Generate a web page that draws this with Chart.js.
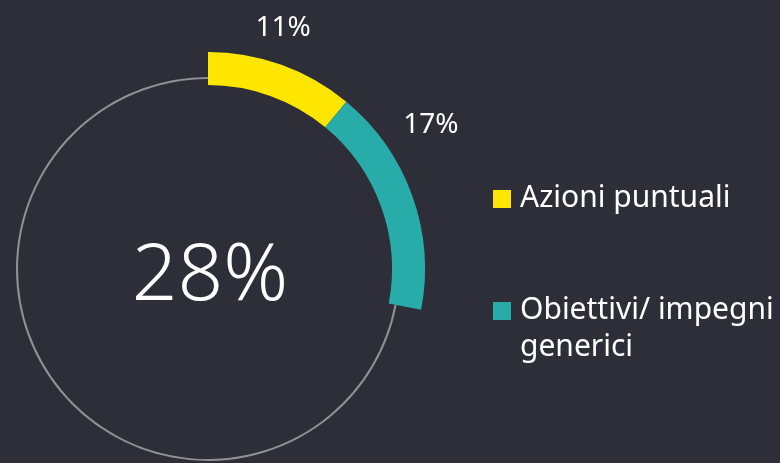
<!DOCTYPE html>
<html>
<head>
    <title>Chart</title>
    <script src="https://cdn.jsdelivr.net/npm/chart.js"></script>
    <style>
        body { margin: 0; background: #2e2e38; }
        #wrap { position: relative; width: 780px; height: 463px; overflow: hidden; }
        #box { position: absolute; left: 0; top: 0; width: 780px; height: 463px; }
        .legend { position: absolute; left: 493px; color: #fff; font-family: "Noto Sans", sans-serif; font-size: 30px; line-height: 37px; }
        .legend .sw { position: absolute; left: 0; width: 18px; height: 18px; }
        .legend .tx { position: absolute; left: 27px; white-space: nowrap; }
    </style>
</head>
<body>
<div id="wrap">
    <div id="box"><canvas id="ring"></canvas></div>
    <div id="legend"></div>
</div>
<script>
    // data
    var categories = ['Azioni puntuali', 'Obiettivi/ impegni generici'];
    var values = [11, 17];
    var colors = ['#ffe600', '#28acaa'];
    var total = values[0] + values[1];
    var rest = 100 - total;

    // legend (html so the second label can wrap)
    var legendTops = [177, 289];
    var legendLines = [['Azioni puntuali'], ['Obiettivi/ impegni', 'generici']];
    var lg = document.getElementById('legend');
    categories.forEach(function (c, i) {
        var d = document.createElement('div');
        d.className = 'legend';
        d.style.top = legendTops[i] + 'px';
        d.innerHTML = '<div class="sw" style="top:13px;background:' + colors[i] + '"></div>' +
            '<div class="tx">' + legendLines[i].join('<br>') + '</div>';
        lg.appendChild(d);
    });

    // labels next to the arcs + big total in the middle
    var labelPlugin = {
        id: 'labels',
        afterDatasetsDraw: function (chart) {
            var ctx = chart.ctx;
            var arcs = chart.getDatasetMeta(1).data;
            var cx = arcs[0].x, cy = arcs[0].y;
            var spots = [[17.5, 253], [57.3, 266]]; // angle from top, radius
            ctx.save();
            ctx.fillStyle = '#ffffff';
            ctx.textAlign = 'center';
            ctx.textBaseline = 'middle';
            ctx.font = '28px "Noto Sans", sans-serif';
            for (var i = 0; i < values.length; i++) {
                var a = spots[i][0] * Math.PI / 180;
                ctx.fillText(values[i] + '%', cx + Math.sin(a) * spots[i][1] - 1, cy - Math.cos(a) * spots[i][1]);
            }
            ctx.font = '300 80px "Noto Sans", sans-serif';
            ctx.fillText(total + '%', cx + 2, cy + 8);
            ctx.restore();
        }
    };

    var ctx = document.getElementById('ring').getContext('2d');
    var chart = new Chart(ctx, {
        type: 'doughnut',
        data: {
            labels: categories.concat(['']),
            datasets: [{
                // thin grey circle for the remaining part
                data: [total, rest],
                backgroundColor: ['rgba(0,0,0,0)', '#909095'],
                borderWidth: 0,
                radius: 192,
                cutout: '97.9%'
            }, {
                data: values.concat([rest]),
                backgroundColor: colors.concat(['rgba(0,0,0,0)']),
                borderWidth: 0,
                radius: 250,
                cutout: '73.6%'
            }]
        },
        options: {
            responsive: true,
            maintainAspectRatio: false,
            animation: false,
            layout: { padding: { left: 0, right: 364, top: 75, bottom: 0 } },
            plugins: { legend: { display: false }, tooltip: { enabled: false } }
        },
        plugins: [labelPlugin]
    });
</script>
</body>
</html>
